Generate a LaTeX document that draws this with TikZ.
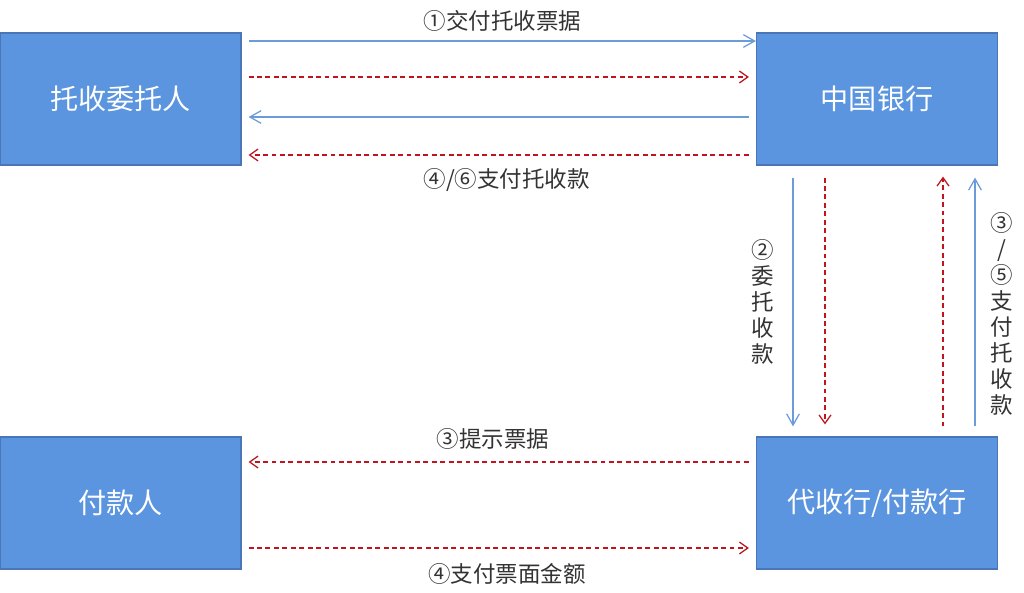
\documentclass[tikz,border=0pt]{standalone}
\usepackage{fontspec}
\setmainfont{Noto Sans CJK SC}
\usetikzlibrary{arrows.meta,
                positioning
            }

\definecolor{boxfill}{HTML}{5B94DF}
\definecolor{boxline}{HTML}{4A76B8}
\definecolor{flowblue}{HTML}{6C9BD9}
\definecolor{flowred}{HTML}{C0141E}

\tikzset{
    party/.style={draw=boxline, line width=0.8pt, fill=boxfill, text=white,
                  minimum width=6.025cm, minimum height=3.3cm,
                  font=\fontsize{20}{24}\selectfont},
    blueflow/.style={draw=flowblue, line width=0.9pt,
                     -{Straight Barb[length=8pt, width=9pt]}},
    redflow/.style={draw=flowred, line width=0.9pt, dash pattern=on 3.5pt off 2.5pt,
                    -{Straight Barb[length=6pt, width=8.5pt]}},
    tag/.style={text=black!80, font=\fontsize{16}{18.5}\selectfont, align=center}
}

\begin{document}
\begin{tikzpicture}[x=0.025cm, y=-0.025cm]
            \useasboundingbox (0,0) rectangle (1024,592);
            \node[party] (client) at (120.5,99) {托收委托人};
            \node[party] (boc) at (877,99) {中国银行};
            \node[party] (payer) at (120.5,503) {付款人};
            \node[party] (agent) at (877,503) {代收行/付款行};
            % client <-> boc
            \draw[blueflow] ([shift={(7,-58)}]client.east) -- ([shift={(0,-58)}]boc.west)
                node[tag, midway, above=3pt] {①交付托收票据};
            \draw[redflow] ([shift={(7,-22)}]client.east) -- ([shift={(-7,-22)}]boc.west);
            \draw[blueflow] ([shift={(-7,18)}]boc.west) -- ([shift={(7,18)}]client.east);
            \draw[redflow] ([shift={(-7,56)}]boc.west) -- ([shift={(7,56)}]client.east)
                node[tag, midway, below=5.5pt, xshift=0.2cm] {④/⑥支付托收款};
            % boc <-> agent
            \draw[blueflow] ([shift={(-84,12)}]boc.south) -- ([shift={(-84,-10)}]agent.north)
                node[tag, midway, left=10pt] {②\\委\\托\\收\\款};
            \draw[redflow] ([shift={(-52,12)}]boc.south) -- ([shift={(-52,-12)}]agent.north);
            \draw[redflow] ([shift={(66,-10)}]agent.north) -- ([shift={(66,11)}]boc.south);
            \draw[blueflow] ([shift={(98,-10)}]agent.north) -- ([shift={(98,12)}]boc.south)
                node[tag, midway, right=7pt, yshift=-0.3cm] {③\\/\\⑤\\支\\付\\托\\收\\款};
            % agent <-> payer
            \draw[redflow] ([shift={(-7,-41)}]agent.west) -- ([shift={(7,-41)}]payer.east)
                node[tag, midway, above=5.5pt, xshift=-0.15cm] {③提示票据};
            \draw[redflow] ([shift={(7,45)}]payer.east) -- ([shift={(-7,45)}]agent.west)
                node[tag, midway, below=7.5pt, xshift=0.2cm] {④支付票面金额};
        \end{tikzpicture}
\end{document}
